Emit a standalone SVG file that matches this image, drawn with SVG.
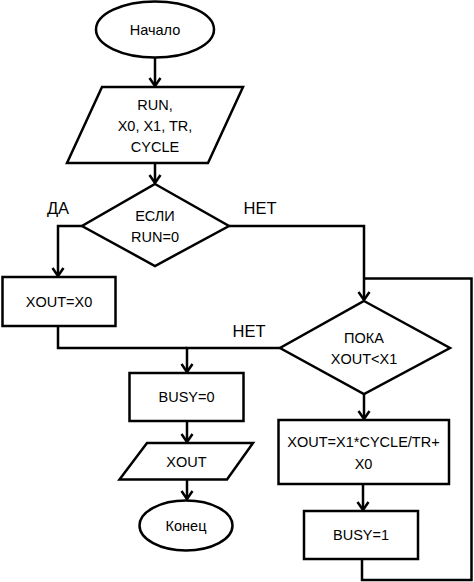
<svg xmlns="http://www.w3.org/2000/svg" width="474" height="582" viewBox="0 0 474 582">
<style>
.s{fill:#fff;stroke:#000;stroke-width:2.5;stroke-linejoin:miter}
.c{fill:none;stroke:#000;stroke-width:2.5}
.t{font-family:"Liberation Sans",Arial,sans-serif;font-size:14.5px;fill:#000;text-anchor:middle;dominant-baseline:central}
.l{font-family:"Liberation Sans",Arial,sans-serif;font-size:16.5px;fill:#000;text-anchor:middle;dominant-baseline:central}
</style>
<defs>
<marker id="a" markerUnits="userSpaceOnUse" markerWidth="14" markerHeight="14" refX="12" refY="7" orient="auto" viewBox="0 0 14 14">
<path d="M4,1.5 L12,7 L4,12.5" fill="none" stroke="#000" stroke-width="2.5"/>
</marker>
</defs>
<rect width="474" height="582" fill="#fff"/>
<g id="connectors">
<path class="c" d="M155,58 V86" marker-end="url(#a)"/>
<path class="c" d="M155,163 V183" marker-end="url(#a)"/>
<path class="c" d="M82,226 H58 V276" marker-end="url(#a)"/>
<path class="c" d="M229,226 H364 V300" marker-end="url(#a)"/>
<path class="c" d="M58,326 V348 H187"/>
<path class="c" d="M280,348 H187 V372" marker-end="url(#a)"/>
<path class="c" d="M187,421 V442" marker-end="url(#a)"/>
<path class="c" d="M187,479 V499" marker-end="url(#a)"/>
<path class="c" d="M364,394 V419" marker-end="url(#a)"/>
<path class="c" d="M363,484 V510" marker-end="url(#a)"/>
<path class="c" d="M362,559 V580 H471.5 V278.5 H364"/>
</g>
<g id="start">
<ellipse class="s" cx="155" cy="29.5" rx="59" ry="28"/>
<text class="t" x="155" y="30">Начало</text>
</g>
<g id="input">
<polygon class="s" points="102,87 243,87 208,163 67,163"/>
<text class="t" x="155" y="105">RUN,</text>
<text class="t" x="155" y="126">X0, X1, TR,</text>
<text class="t" x="155" y="147">CYCLE</text>
</g>
<g id="if">
<polygon class="s" points="155,184 229,226 155,266 82,226"/>
<text class="t" x="155" y="216">ЕСЛИ</text>
<text class="t" x="155" y="237">RUN=0</text>
</g>
<g id="lbl-da"><text class="l" x="58" y="208">ДА</text></g>
<g id="lbl-net1"><text class="l" x="260" y="208">НЕТ</text></g>
<g id="xout-x0">
<rect class="s" x="2.5" y="277" width="113" height="49"/>
<text class="t" x="59" y="302">XOUT=X0</text>
</g>
<g id="while">
<polygon class="s" points="364,301 450,348 364,394 280,348"/>
<text class="t" x="364" y="338">ПОКА</text>
<text class="t" x="364" y="359">XOUT&lt;X1</text>
</g>
<g id="lbl-net2"><text class="l" x="249" y="331">НЕТ</text></g>
<g id="busy0">
<rect class="s" x="129.5" y="373" width="114" height="48"/>
<text class="t" x="186.5" y="397">BUSY=0</text>
</g>
<g id="output">
<polygon class="s" points="147,443 253,443 227,479.5 119.5,479.5"/>
<text class="t" x="186.5" y="462">XOUT</text>
</g>
<g id="end">
<ellipse class="s" cx="186" cy="525.5" rx="46.5" ry="25"/>
<text class="t" x="186" y="526">Конец</text>
</g>
<g id="calc">
<rect class="s" x="278.5" y="420" width="170.5" height="64"/>
<text class="t" x="363.5" y="442">XOUT=X1*CYCLE/TR+</text>
<text class="t" x="363.5" y="463.5">X0</text>
</g>
<g id="busy1">
<rect class="s" x="304" y="511" width="114" height="48"/>
<text class="t" x="361" y="535">BUSY=1</text>
</g>
</svg>
